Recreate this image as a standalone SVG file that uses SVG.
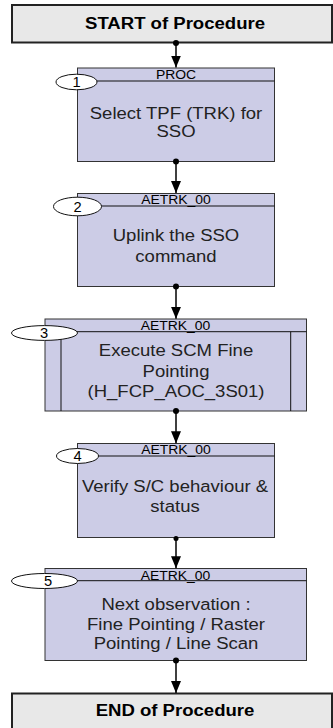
<svg xmlns="http://www.w3.org/2000/svg" width="333" height="728" viewBox="0 0 333 728">
  <defs>
    <marker id="arrow" markerWidth="12" markerHeight="10" refX="12" refY="5" orient="auto" markerUnits="userSpaceOnUse">
      <path d="M0,0 L12,5 L0,10 Z" fill="#000"/>
    </marker>
    <style>
      .term { fill: #e8e8e8; stroke: #222; stroke-width: 2; }
      .step { fill: #cccce6; stroke: #333; stroke-width: 1; }
      .rule { stroke: #111; stroke-width: 1; fill: none; }
      .badge { fill: #fff; stroke: #111; stroke-width: 1; }
      .txt { font-family: "Liberation Sans", Arial, sans-serif; text-anchor: middle; fill: #222; }
      .title { font-size: 16px; font-weight: bold; fill: #000; }
      .body { font-size: 17px; }
      .head { font-size: 12px; fill: #000; }
      .num { font-size: 14px; fill: #000; }
      .wire { stroke: #000; stroke-width: 1.5; fill: none; marker-end: url(#arrow); }
      .dot { fill: #000; }
    </style>
  </defs>

  <g id="start">
    <rect class="term" x="12" y="5" width="320" height="37.5"/>
    <text class="txt title" transform="matrix(1.16,0,0,1,175,29)">START of Procedure</text>
  </g>

  <g id="step1">
    <rect class="step" x="77.5" y="68" width="197" height="93.5"/>
    <line class="rule" x1="77.5" y1="81" x2="274.5" y2="81"/>
    <text class="txt head" transform="matrix(1.16,0,0,1,176,79)">PROC</text>
    <ellipse class="badge" cx="76.5" cy="82" rx="20.5" ry="7.8"/>
    <text class="txt num" transform="matrix(1.05,0,0,1,76.5,87)">1</text>
    <text class="txt body" transform="matrix(1.09,0,0,1,176,119)">Select TPF (TRK) for</text>
    <text class="txt body" transform="matrix(1.09,0,0,1,176,137)">SSO</text>
  </g>

  <g id="step2">
    <rect class="step" x="77.5" y="193.5" width="197" height="93"/>
    <line class="rule" x1="77.5" y1="206" x2="274.5" y2="206"/>
    <text class="txt head" transform="matrix(1.16,0,0,1,176,203.5)">AETRK_00</text>
    <ellipse class="badge" cx="77.5" cy="206.5" rx="24" ry="9.3"/>
    <text class="txt num" transform="matrix(1.05,0,0,1,77.5,211.5)">2</text>
    <text class="txt body" transform="matrix(1.09,0,0,1,176,241)">Uplink the SSO</text>
    <text class="txt body" transform="matrix(1.09,0,0,1,176,261.5)">command</text>
  </g>

  <g id="step3">
    <rect class="step" x="45" y="319" width="261.5" height="92"/>
    <line class="rule" x1="45" y1="331.7" x2="306.5" y2="331.7"/>
    <line class="rule" x1="61" y1="331.7" x2="61" y2="411"/>
    <line class="rule" x1="290.7" y1="331.7" x2="290.7" y2="411"/>
    <text class="txt head" transform="matrix(1.16,0,0,1,175.5,329.5)">AETRK_00</text>
    <ellipse class="badge" cx="44.5" cy="333" rx="33" ry="7.4"/>
    <text class="txt num" transform="matrix(1.05,0,0,1,44,338)">3</text>
    <text class="txt body" transform="matrix(1.09,0,0,1,176,356)">Execute SCM Fine</text>
    <text class="txt body" transform="matrix(1.09,0,0,1,176,376.5)">Pointing</text>
    <text class="txt body" transform="matrix(1.09,0,0,1,176,396.5)">(H_FCP_AOC_3S01)</text>
  </g>

  <g id="step4">
    <rect class="step" x="77.5" y="443.5" width="197" height="94"/>
    <line class="rule" x1="77.5" y1="456" x2="274.5" y2="456"/>
    <text class="txt head" transform="matrix(1.16,0,0,1,176,453.5)">AETRK_00</text>
    <ellipse class="badge" cx="77.5" cy="456" rx="21" ry="7.5"/>
    <text class="txt num" transform="matrix(1.05,0,0,1,77.5,461)">4</text>
    <text class="txt body" transform="matrix(1.09,0,0,1,175,491.5)">Verify S/C behaviour &amp;</text>
    <text class="txt body" transform="matrix(1.09,0,0,1,175,511.5)">status</text>
  </g>

  <g id="step5">
    <rect class="step" x="45" y="568.5" width="261.5" height="92"/>
    <line class="rule" x1="45" y1="580.7" x2="306.5" y2="580.7"/>
    <text class="txt head" transform="matrix(1.16,0,0,1,175.5,580)">AETRK_00</text>
    <ellipse class="badge" cx="44.5" cy="581" rx="33" ry="7.5"/>
    <text class="txt num" transform="matrix(1.05,0,0,1,48,586)">5</text>
    <text class="txt body" transform="matrix(1.09,0,0,1,176,609.5)">Next observation :</text>
    <text class="txt body" transform="matrix(1.09,0,0,1,176,630)">Fine Pointing / Raster</text>
    <text class="txt body" transform="matrix(1.09,0,0,1,176,648.5)">Pointing / Line Scan</text>
  </g>

  <g id="end">
    <rect class="term" x="12" y="693.5" width="320" height="40"/>
    <text class="txt title" transform="matrix(1.16,0,0,1,175,716)">END of Procedure</text>
  </g>

  <g id="connectors">
    <line class="wire" x1="176" y1="43" x2="176" y2="67.5"/>
    <circle class="dot" cx="176" cy="43" r="3"/>
    <line class="wire" x1="176" y1="161.5" x2="176" y2="193"/>
    <circle class="dot" cx="176" cy="161.5" r="3"/>
    <line class="wire" x1="176" y1="286.5" x2="176" y2="318.8"/>
    <circle class="dot" cx="176" cy="286.5" r="3"/>
    <line class="wire" x1="176" y1="411" x2="176" y2="443.3"/>
    <circle class="dot" cx="176" cy="411" r="3"/>
    <line class="wire" x1="176" y1="537.5" x2="176" y2="568.3"/>
    <circle class="dot" cx="176" cy="538.5" r="2.5"/>
    <line class="wire" x1="176" y1="660.5" x2="176" y2="693"/>
    <circle class="dot" cx="176" cy="660.5" r="3"/>
  </g>
</svg>
